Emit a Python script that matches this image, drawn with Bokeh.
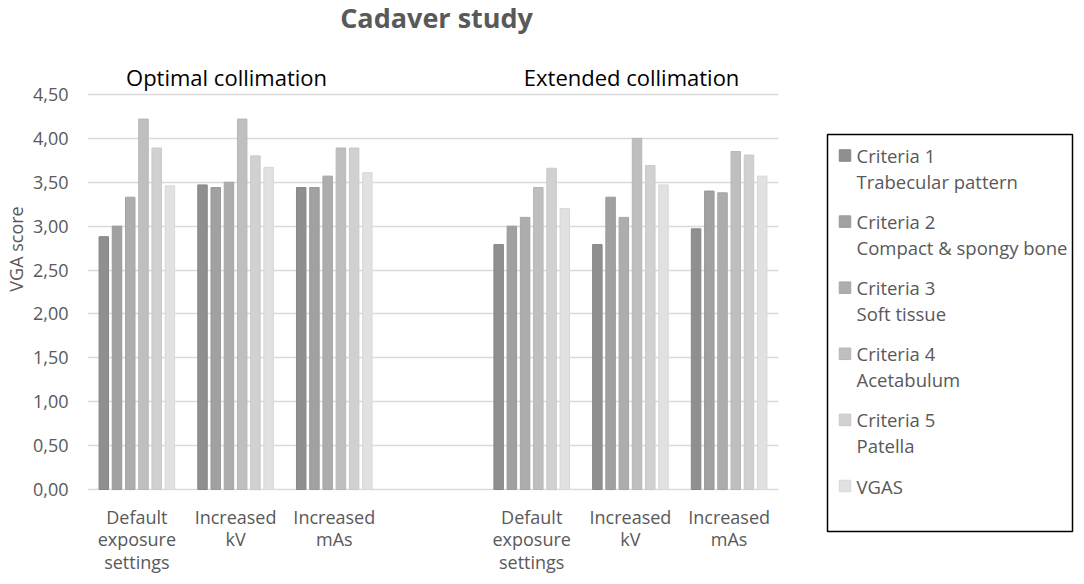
from bokeh.plotting import figure
from bokeh.models import FixedTicker, Range1d
from bokeh.layouts import row
from bokeh.core.properties import value
from bokeh.embed import file_html
from bokeh.resources import INLINE

# ---------------- data ----------------
title_text = "Cadaver study"
collimations = ["Optimal collimation", "Extended collimation"]
settings = ["Default\nexposure\nsettings", "Increased\nkV", "Increased\nmAs"]
series_names = ["Criteria 1", "Criteria 2", "Criteria 3", "Criteria 4", "Criteria 5", "VGAS"]
series_desc = ["Trabecular pattern", "Compact & spongy bone", "Soft tissue", "Acetabulum", "Patella", ""]
# order of groups: optimal (default, kV, mAs), extended (default, kV, mAs)
crit1 = [2.88, 3.47, 3.44, 2.79, 2.79, 2.97]
crit2 = [3.00, 3.44, 3.44, 3.00, 3.33, 3.40]
crit3 = [3.33, 3.50, 3.57, 3.10, 3.10, 3.38]
crit4 = [4.22, 4.22, 3.89, 3.44, 4.00, 3.85]
crit5 = [3.89, 3.80, 3.89, 3.66, 3.69, 3.81]
vgas = [3.46, 3.67, 3.61, 3.20, 3.47, 3.57]
series_values = [crit1, crit2, crit3, crit4, crit5, vgas]
y_ticks = [0.0, 0.5, 1.0, 1.5, 2.0, 2.5, 3.0, 3.5, 4.0, 4.5]
y_label = "VGA score"

# ---------------- style ----------------
fills = ["#8f8f8f", "#a1a1a1", "#adadad", "#bfbfbf", "#d1d1d1", "#e1e1e1"]
lines = ["#878787", "#999999", "#a5a5a5", "#b6b6b6", "#c8c8c8", "#d8d8d8"]
FONT = "Open Sans"
GREY = "#595959"

# layout helpers (page pixels -> data coordinates of the main chart)
X0, XS = 89.0, 98.7      # page x of x=-0.5, px per category
Y0, YS = 490.0, 87.78    # page y of y=0, px per unit
FRAME_TOP, FRAME_BOTTOM = 8, 491
N_SLOTS = 7
TOP = 7
BOTTOM = 78


def px_x(px):
    return (px - X0) / XS - 0.5


def px_y(py):
    return (Y0 - py) / YS


p = figure(frame_width=int(round(N_SLOTS * XS)), frame_height=FRAME_BOTTOM - FRAME_TOP,
           output_backend="svg", toolbar_location=None,
           x_range=Range1d(-0.5, N_SLOTS - 0.5),
           y_range=Range1d(px_y(FRAME_BOTTOM), px_y(FRAME_TOP)),
           min_border_left=81, min_border_right=40, min_border_top=TOP, min_border_bottom=BOTTOM,
           title=None)
p.outline_line_color = None
p.xgrid.visible = False
p.ygrid.grid_line_color = "#d9d9d9"
p.ygrid.grid_line_width = 1.3

# positions of the six groups (empty slot between the two collimations)
positions = [i for i in range(len(settings))] + [len(settings) + 1 + i for i in range(len(settings))]

# bars
step = 0.134
bw = 0.096
n = len(series_values)
for i, vals in enumerate(series_values):
    xs = [pos + (i - (n - 1) / 2) * step for pos in positions]
    p.vbar(x=xs, top=vals, bottom=0, width=bw, fill_color=fills[i],
           line_color=lines[i], line_width=1)

# title and collimation headers
p.text(x=[px_x(438)], y=[px_y(18)], text=[title_text], text_font=value(FONT),
       text_font_size="27px", text_font_style="bold", text_color=GREY,
       text_align="center", text_baseline="middle")
p.text(x=[px_x(228), px_x(633)], y=[px_y(77.5), px_y(77.5)], text=collimations,
       text_font=value(FONT), text_font_size="22px", text_color="black",
       text_align="center", text_baseline="middle")

# axes
xa = p.xaxis[0]
xa.ticker = FixedTicker(ticks=positions)
xa.major_label_overrides = {pos: settings[k % len(settings)] for k, pos in enumerate(positions)}
xa.axis_line_color = None
xa.major_tick_line_color = None
xa.major_tick_out = 0
xa.major_tick_in = 0
xa.minor_tick_line_color = None
xa.minor_tick_out = 0
xa.major_label_text_font = FONT
xa.major_label_text_font_size = "18px"
xa.major_label_text_color = GREY
xa.major_label_text_line_height = 0.94
xa.major_label_standoff = 14

ya = p.yaxis[0]
ya.ticker = FixedTicker(ticks=y_ticks)
ya.major_label_overrides = {t: f"{t:.2f}".replace(".", ",") for t in y_ticks}
ya.axis_line_color = None
ya.major_tick_line_color = None
ya.major_tick_out = 0
ya.major_tick_in = 0
ya.minor_tick_line_color = None
ya.minor_tick_out = 0
ya.major_label_text_font = FONT
ya.major_label_text_font_size = "18px"
ya.major_label_text_color = GREY
ya.major_label_standoff = 19
ya.axis_label = y_label
ya.axis_label_text_font = FONT
ya.axis_label_text_font_size = "18px"
ya.axis_label_text_font_style = "normal"
ya.axis_label_text_color = GREY
ya.axis_label_standoff = 2

# ---------------- legend panel (coordinates = page pixels) ----------------
LX0, LX1, LY0, LY1 = 820, 1076, 8, 576
lg = figure(frame_width=LX1 - LX0, frame_height=LY1 - LY0, output_backend="svg",
            toolbar_location=None, x_range=Range1d(LX0, LX1), y_range=Range1d(LY1, LY0),
            x_axis_location=None, y_axis_location=None,
            min_border_left=0, min_border_right=0, min_border_top=0, min_border_bottom=0,
            title=None)
lg.outline_line_color = None
lg.grid.visible = False
lg.quad(left=[829], right=[1074], top=[135], bottom=[532],
        fill_color=None, line_color="black", line_width=1.5)
row_px = [156 + 66.1 * k for k in range(n)]
lg.scatter(x=[846.5] * n, y=row_px, marker="square", size=11.5,
           fill_color=fills, line_color=lines)
lg.text(x=[858] * n, y=row_px, text=series_names,
        text_font=value(FONT), text_font_size="18.5px", text_color=GREY,
        text_align="left", text_baseline="middle")
lg.text(x=[858] * n, y=[r + 25.7 for r in row_px], text=series_desc,
        text_font=value(FONT), text_font_size="18.5px", text_color=GREY,
        text_align="left", text_baseline="middle")

layout = row(p, lg, spacing=0)
open("out.html", "w").write(file_html(layout, INLINE))
